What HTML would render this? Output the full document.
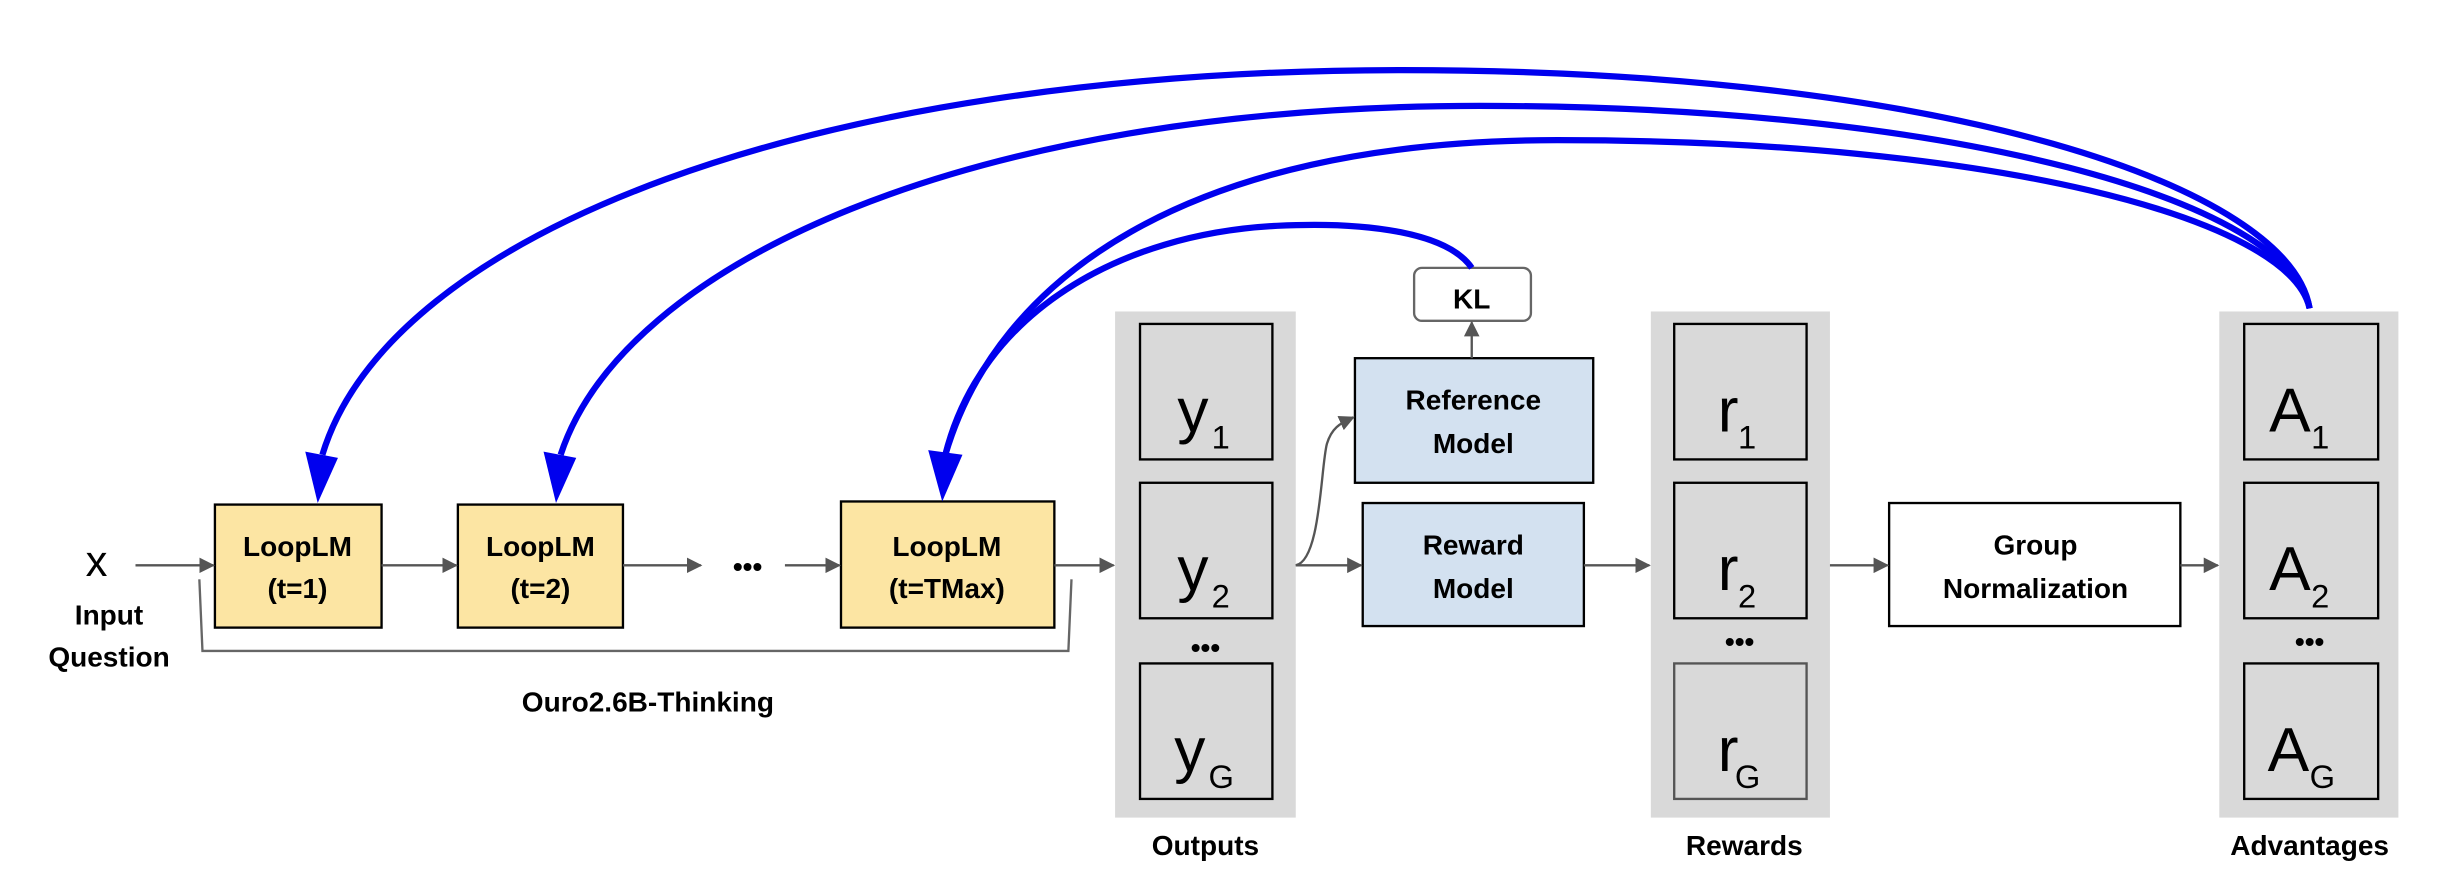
<!DOCTYPE html>
<html><head><meta charset="utf-8"><style>
html,body{margin:0;padding:0;background:#fff;}
svg{display:block;}
text{font-family:"Liberation Sans",Arial,sans-serif;}
.b{font-weight:bold;font-size:18px;text-anchor:middle;fill:#000;}
.big{font-size:40px;fill:#000;}
.sub{font-size:21px;fill:#000;}
</style></head><body>
<svg width="2442" height="888" viewBox="0 0 1568 570.2" preserveAspectRatio="none" xmlns="http://www.w3.org/2000/svg">
<defs>
<marker id="g" markerWidth="10" markerHeight="10" refX="9" refY="5" orient="auto" markerUnits="userSpaceOnUse"><path d="M0,0 L10,5 L0,10 z" fill="#555"/></marker>
</defs>
<rect x="716" y="200" width="116" height="325" fill="#d9d9d9"/>
<rect x="1060" y="200" width="115" height="325" fill="#d9d9d9"/>
<rect x="1425" y="200" width="115" height="325" fill="#d9d9d9"/>
<g fill="#d9d9d9" stroke="#000" stroke-width="1.5">
<rect x="732" y="208" width="85" height="87"/><rect x="732" y="310" width="85" height="87"/><rect x="732" y="426" width="85" height="87"/>
<rect x="1075" y="208" width="85" height="87"/><rect x="1075" y="310" width="85" height="87"/><rect x="1075" y="426" width="85" height="87" stroke="#555"/>
<rect x="1441" y="208" width="86" height="87"/><rect x="1441" y="310" width="86" height="87"/><rect x="1441" y="426" width="86" height="87"/>
</g>
<g>
<text x="756" y="277" class="big">y</text><text x="778" y="288" class="sub">1</text>
<text x="756" y="379" class="big">y</text><text x="778" y="390" class="sub">2</text>
<text x="754" y="495" class="big">y</text><text x="776" y="506" class="sub">G</text>
<text x="1103" y="277" class="big">r</text><text x="1116" y="288" class="sub">1</text>
<text x="1103" y="379" class="big">r</text><text x="1116" y="390" class="sub">2</text>
<text x="1103" y="495" class="big">r</text><text x="1114" y="506" class="sub">G</text>
<text x="1457" y="277" class="big">A</text><text x="1484" y="288" class="sub">1</text>
<text x="1457" y="379" class="big">A</text><text x="1484" y="390" class="sub">2</text>
<text x="1456" y="495" class="big">A</text><text x="1483" y="506" class="sub">G</text>
</g>
<text x="774" y="422" class="b" font-size="22">•••</text>
<text x="1117" y="418" class="b" font-size="22">•••</text>
<text x="1483" y="418" class="b" font-size="22">•••</text>
<g fill="#fce5a3" stroke="#000" stroke-width="1.5">
<rect x="138" y="324" width="107" height="79"/><rect x="294" y="324" width="106" height="79"/><rect x="540" y="322" width="137" height="81"/>
</g>
<text x="191" y="357" class="b">LoopLM</text><text x="191" y="384" class="b">(t=1)</text>
<text x="347" y="357" class="b">LoopLM</text><text x="347" y="384" class="b">(t=2)</text>
<text x="608" y="357" class="b">LoopLM</text><text x="608" y="384" class="b">(t=TMax)</text>
<text x="480" y="370" class="b" font-size="22">•••</text>
<rect x="870" y="230" width="153" height="80" fill="#d3e1f0" stroke="#000" stroke-width="1.5"/>
<text x="946" y="263" class="b">Reference</text><text x="946" y="291" class="b">Model</text>
<rect x="875" y="323" width="142" height="79" fill="#d3e1f0" stroke="#000" stroke-width="1.5"/>
<text x="946" y="356" class="b">Reward</text><text x="946" y="384" class="b">Model</text>
<rect x="1213" y="323" width="187" height="79" fill="#fff" stroke="#000" stroke-width="1.5"/>
<text x="1307" y="356" class="b">Group</text><text x="1307" y="384" class="b">Normalization</text>
<rect x="908" y="172" width="75" height="34" rx="5" fill="#fff" stroke="#666" stroke-width="1.5"/>
<text x="945" y="198" class="b" font-size="22">KL</text>
<text x="62" y="370" font-size="28" text-anchor="middle">x</text>
<text x="70" y="401" class="b">Input</text><text x="70" y="428" class="b">Question</text>
<text x="416" y="457" class="b">Ouro2.6B-Thinking</text>
<text x="774" y="549" class="b">Outputs</text>
<text x="1120" y="549" class="b">Rewards</text>
<text x="1483" y="549" class="b">Advantages</text>
<g stroke="#555" stroke-width="1.5" fill="none" marker-end="url(#g)">
<line x1="87" y1="363" x2="137" y2="363"/>
<line x1="245" y1="363" x2="293" y2="363"/>
<line x1="400" y1="363" x2="450" y2="363"/>
<line x1="504" y1="363" x2="539" y2="363"/>
<line x1="677" y1="363" x2="715" y2="363"/>
<line x1="832" y1="363" x2="874" y2="363"/>
<path d="M832,363 C848,360 848,300 852,285 C855,275 860,272 869,268"/>
<line x1="945" y1="230" x2="945" y2="207"/>
<line x1="1017" y1="363" x2="1059" y2="363"/>
<line x1="1175" y1="363" x2="1212" y2="363"/>
<line x1="1400" y1="363" x2="1424" y2="363"/>
</g>
<path d="M128,372 L130,418 L686,418 L688,372" stroke="#666" stroke-width="1.5" fill="none"/>
<g stroke="#0000ee" stroke-width="4" fill="none">
<path d="M1483,198 C1470,120 1250,45 900,45 C520,45 250,150 207,292"/>
<path d="M1483,198 C1470,130 1260,68 950,68 C620,68 400,170 360,292"/>
<path d="M1483,198 C1470,140 1280,90 1000,90 C760,90 640,180 607,292"/>
<path d="M945,172 C930,150 880,142 820,145 C720,150 630,200 607,292"/>
</g>
<g fill="#0000ee">
<path d="M196,290 L217,294 L204,323 z"/>
<path d="M349,290 L370,294 L357,323 z"/>
<path d="M596,289 L618,292 L605,322 z"/>
</g>
</svg>
</body></html>
